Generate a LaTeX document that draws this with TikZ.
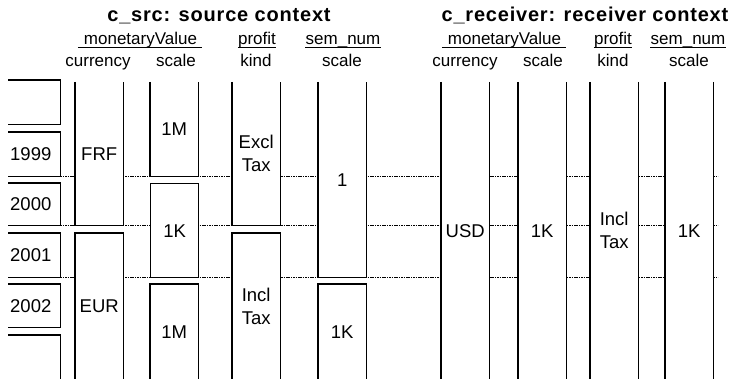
\documentclass[tikz,border=0pt]{standalone}
\usepackage{fontspec}
\setmainfont{Liberation Sans}
\newfontfamily\titlefont{Liberation Sans}[LetterSpace=4]
\usetikzlibrary{backgrounds}

\begin{document}
\begin{tikzpicture}[x=1pt, y=-1pt, font=\fontsize{17}{20}\selectfont,
    wall/.style={line width=1.3pt},
    cell/.style={fill=white, inner sep=0pt, minimum width=48pt, anchor=north west,
      align=center, font=\fontsize{18.5}{23}\selectfont},
    yearcell/.style={cell, inner xsep=2pt, text width=48pt, align=left},
    tick/.style={line width=1pt, dash pattern=on 1.6pt off 0.8pt},
    head/.style={anchor=base, inner sep=0pt},
    ctxtitle/.style={anchor=base, inner sep=0pt, font=\titlefont\fontsize{20}{24}\selectfont\bfseries}]
  \useasboundingbox (0,0) rectangle (738,379);
  \coordinate (rimR) at (718,0);
  %--- Kontekst-titler ---
  \node[ctxtitle] (tsrc) at (219,22) {c\_src: source context};
  \node[ctxtitle] (trcv) at (585,22) {c\_receiver: receiver context};
  %--- Modifikatorer ---
  \node[head] (hsrcMV) at (140,45) {\kern6pt monetaryValue\kern5pt};
  \node[head] (hsrcProf) at (257,45) {profit};
  \node[head] (hsrcSem) at (343,45) {sem\_num};
  \node[head] (hrcvMV) at (504,45) {\kern6pt monetaryValue\kern5pt};
  \node[head] (hrcvProf) at (613,45) {profit};
  \node[head] (hrcvSem) at (688,45) {sem\_num};
  \foreach \h in {hsrcMV,hsrcProf,hsrcSem,hrcvMV,hrcvProf,hrcvSem}
    \draw[line width=0.8pt] ([yshift=-2.5pt]\h.base west) -- ([yshift=-2.5pt]\h.base east);
  \node[head] (asrcCur) at (98,67) {currency};
  \node[head] (asrcScl) at (176,67) {scale};
  \node[head] (asrcKnd) at (256,67) {kind};
  \node[head] (asrcSem) at (342,67) {scale};
  \node[head] (arcvCur) at (465,67) {currency};
  \node[head] (arcvScl) at (543,67) {scale};
  \node[head] (arcvKnd) at (613,67) {kind};
  \node[head] (arcvSem) at (689,67) {scale};
  %--- Tidslinje ---
  \node[yearcell, minimum height=44pt] (yr0) at (8,80) {};
  \node[yearcell, minimum height=44pt] (yr1999) at (8,132) {1999};
  \node[yearcell, minimum height=42pt] (yr2000) at (8,183) {2000};
  \node[yearcell, minimum height=44pt] (yr2001) at (8,233) {2001};
  \node[yearcell, minimum height=43pt] (yr2002) at (8,284) {2002};
  \node[yearcell, minimum height=44pt] (yr5) at (8,335) {};
  %--- Kildekontekst ---
  \node[cell, minimum height=143pt] (srcFRF) at (75,82) {FRF};
  \node[cell, minimum height=146pt] (srcEUR) at (75,233) {EUR};
  \node[cell, minimum height=94pt] (srcM1) at (150,82) {1M};
  \node[cell, wall, draw, minimum height=94pt] (srcK1) at (150,183) {1K};
  \node[cell, minimum height=95pt] (srcM2) at (150,284) {1M};
  \node[cell, minimum height=143pt] (srcExcl) at (232,82) {Excl\\Tax};
  \node[cell, minimum height=146pt] (srcIncl) at (232,233) {Incl\\Tax};
  \node[cell, minimum height=195pt] (srcOne) at (318,82) {1};
  \node[cell, minimum height=95pt] (srcK2) at (318,284) {1K};
  %--- Mottakerkontekst ---
  \node[cell, minimum height=297pt] (rcvUSD) at (441,82) {USD};
  \node[cell, minimum height=297pt] (rcvK1) at (518,82) {1K};
  \node[cell, minimum height=297pt] (rcvIncl) at (590,82) {Incl\\Tax};
  \node[cell, minimum height=297pt] (rcvK2) at (665,82) {1K};
  %--- Kanter ---
  \foreach \n in {srcFRF,srcM1,srcExcl,srcOne}
    \draw[wall] (\n.north west) -- (\n.south west) -- (\n.south east) -- (\n.north east);
  \foreach \n in {srcEUR,srcM2,srcIncl,srcK2}
    \draw[wall] (\n.south west) -- (\n.north west) -- (\n.north east) -- (\n.south east);
  \foreach \n in {rcvUSD,rcvK1,rcvIncl,rcvK2}
    \draw[wall] (\n.north west) -- (\n.south west) (\n.north east) -- (\n.south east);
  \foreach \n in {yr0,yr1999,yr2000,yr2001,yr2002}
    \draw[wall] (\n.north west) -- (\n.north east) -- (\n.south east) -- (\n.south west);
  \draw[wall] (yr5.south east) -- (yr5.north east) -- (yr5.north west);
  %--- Aarsskiller ---
  \begin{scope}[on background layer]
    \foreach \y in {1999,2000,2001}
      \draw[tick] (yr\y.south east) -- (yr\y.south east -| rimR);
  \end{scope}
\end{tikzpicture}
\end{document}
